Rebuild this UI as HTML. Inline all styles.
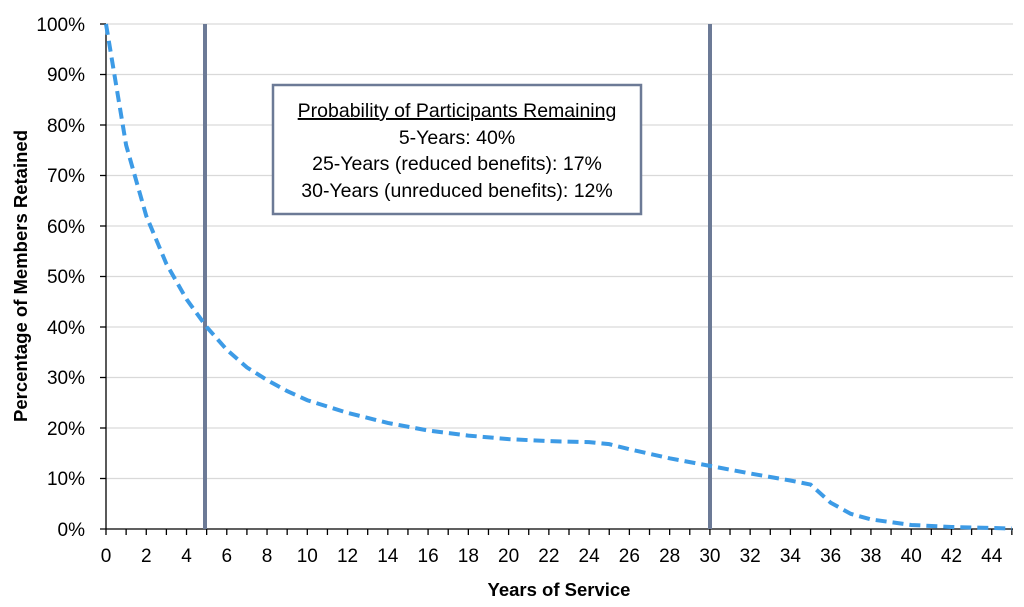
<!DOCTYPE html>
<html><head><meta charset="utf-8"><style>body{margin:0;background:#fff}svg{display:block}text{font-family:"Liberation Sans",sans-serif;fill:#000}</style></head><body>
<svg width="1024" height="607" viewBox="0 0 1024 607">
<g stroke="#d9d9d9" stroke-width="1.3">
<line x1="106" y1="24" x2="1013" y2="24"/><line x1="106" y1="74.5" x2="1013" y2="74.5"/><line x1="106" y1="125" x2="1013" y2="125"/><line x1="106" y1="175.5" x2="1013" y2="175.5"/><line x1="106" y1="226" x2="1013" y2="226"/><line x1="106" y1="276.5" x2="1013" y2="276.5"/><line x1="106" y1="327" x2="1013" y2="327"/><line x1="106" y1="377.5" x2="1013" y2="377.5"/><line x1="106" y1="428" x2="1013" y2="428"/><line x1="106" y1="478.5" x2="1013" y2="478.5"/>
</g>
<g stroke="#000" stroke-width="1.3">
<line x1="106" y1="24" x2="106" y2="529"/><line x1="100" y1="529" x2="1013" y2="529"/>
<line x1="100" y1="24" x2="106" y2="24"/><line x1="100" y1="74.5" x2="106" y2="74.5"/><line x1="100" y1="125" x2="106" y2="125"/><line x1="100" y1="175.5" x2="106" y2="175.5"/><line x1="100" y1="226" x2="106" y2="226"/><line x1="100" y1="276.5" x2="106" y2="276.5"/><line x1="100" y1="327" x2="106" y2="327"/><line x1="100" y1="377.5" x2="106" y2="377.5"/><line x1="100" y1="428" x2="106" y2="428"/><line x1="100" y1="478.5" x2="106" y2="478.5"/>
</g>
<g id="ticks" stroke="#000" stroke-width="1.3"></g>
<g font-size="19" text-anchor="end">
<text x="85" y="31">100%</text><text x="85" y="81">90%</text><text x="85" y="132">80%</text><text x="85" y="182">70%</text><text x="85" y="233">60%</text><text x="85" y="283">50%</text><text x="85" y="334">40%</text><text x="85" y="384">30%</text><text x="85" y="435">20%</text><text x="85" y="485">10%</text><text x="85" y="536">0%</text>
</g>
<g id="xl" font-size="19" text-anchor="middle"></g>
<text x="559" y="596" font-size="18.5" font-weight="bold" text-anchor="middle">Years of Service</text>
<text transform="translate(27,276) rotate(-90)" font-size="18.5" font-weight="bold" text-anchor="middle">Percentage of Members Retained</text>
<line x1="205" y1="24" x2="205" y2="529" stroke="#6c7a96" stroke-width="4"/>
<line x1="710" y1="24" x2="710" y2="529" stroke="#6c7a96" stroke-width="4"/>
<path id="curve" fill="none" stroke="#3d9be6" stroke-width="4" stroke-dasharray="11,6"/>
<rect x="273" y="85" width="368" height="129" fill="#fff" stroke="#6c7a96" stroke-width="2.5"/>
<g font-size="19.5" text-anchor="middle">
<text x="457" y="117" text-decoration="underline">Probability of Participants Remaining</text>
<text x="457" y="144">5-Years: 40%</text>
<text x="457" y="170">25-Years (reduced benefits): 17%</text>
<text x="457" y="197">30-Years (unreduced benefits): 12%</text>
</g>
</svg>
<script>
var X=function(v){return 106+v*20.13},Y=function(p){return 529-p*5.05};
var t='',l='';for(var i=0;i<=45;i++){t+='<line x1="'+X(i)+'" y1="529" x2="'+X(i)+'" y2="535"/>';if(i%2==0)l+='<text x="'+X(i)+'" y="562">'+i+'</text>';}
document.getElementById('ticks').innerHTML=t;document.getElementById('xl').innerHTML=l;
var d=[[0,100],[1,76],[2,62],[3,52.5],[4,45.5],[5,40],[6,35.5],[7,32],[8,29.5],[9,27.3],[10,25.5],[12,23],[14,21],[16,19.5],[18,18.5],[20,17.8],[22,17.4],[24,17.2],[25,16.8],[26,15.8],[28,14],[30,12.5],[32,11],[34,9.6],[35,8.8],[36,5.2],[37,3],[38,1.9],[40,0.8],[42,0.4],[45,0.1]];
var s='M'+X(0)+' '+Y(100);for(var i=1;i<d.length;i++){var c=d[i];s+=' L'+X(c[0])+' '+Y(c[1]);}
document.getElementById('curve').setAttribute('d',s);
</script>
</body></html>
